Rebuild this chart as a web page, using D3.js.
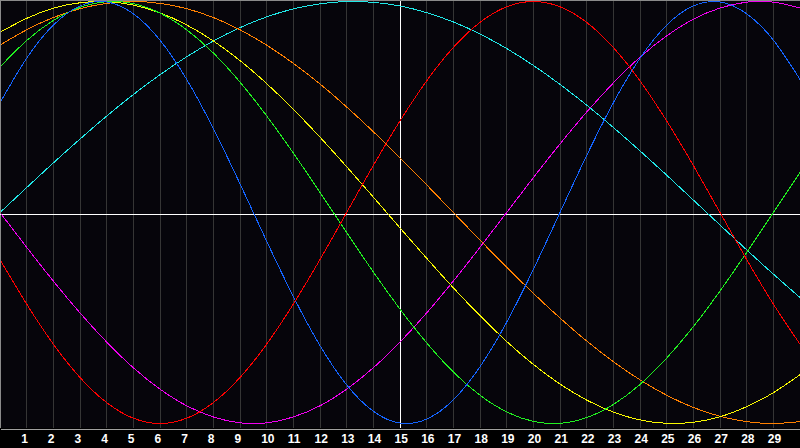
<!DOCTYPE html>
<html lang="en">
<head>
<meta charset="utf-8" />
<title>Biorhythm</title>
<style>
  html, body { margin: 0; padding: 0; background: #000; }
  svg { display: block; }
  .day-axis text { fill: #fff; font-family: "Liberation Sans", Arial, sans-serif; font-weight: bold; font-size: 12px; }
</style>
</head>
<body>
<script src="https://d3js.org/d3.v7.min.js"></script>
<script type="text/javascript">

// days shown on the chart (0 = left edge, 30 = right edge)
const days = [0, 1, 2, 3, 4, 5, 6, 7, 8, 9, 10, 11, 12, 13, 14, 15, 16, 17, 18, 19, 20, 21, 22, 23, 24, 25, 26, 27, 28, 29, 30];
const tickDays = [1, 2, 3, 4, 5, 6, 7, 8, 9, 10, 11, 12, 13, 14, 15, 16, 17, 18, 19, 20, 21, 22, 23, 24, 25, 26, 27, 28, 29];

// cycle values per day, -1 .. 1
const physical = [0.520, 0.731, 0.888, 0.979, 0.998, 0.942, 0.817, 0.631, 0.398, 0.136, -0.136, -0.398, -0.631, -0.817, -0.942, -0.998, -0.979, -0.888, -0.731, -0.520, -0.270, 0.000, 0.270, 0.520, 0.731, 0.888, 0.979, 0.998, 0.942, 0.817, 0.631];
const emotional = [-0.223, -0.434, -0.624, -0.782, -0.901, -0.975, -1.000, -0.975, -0.901, -0.782, -0.624, -0.434, -0.223, 0.000, 0.223, 0.434, 0.624, 0.782, 0.901, 0.975, 1.000, 0.975, 0.901, 0.782, 0.624, 0.434, 0.223, 0.000, -0.223, -0.434, -0.624];
const intellectual = [0.690, 0.815, 0.910, 0.972, 0.999, 0.990, 0.945, 0.866, 0.756, 0.618, 0.458, 0.282, 0.095, -0.095, -0.282, -0.458, -0.618, -0.756, -0.866, -0.945, -0.990, -0.999, -0.972, -0.910, -0.815, -0.690, -0.541, -0.372, -0.189, 0.000, 0.189];
const intuitive = [0.000, -0.165, -0.325, -0.476, -0.614, -0.736, -0.837, -0.916, -0.969, -0.997, -0.997, -0.969, -0.916, -0.837, -0.736, -0.614, -0.476, -0.325, -0.165, 0.000, 0.165, 0.325, 0.476, 0.614, 0.736, 0.837, 0.916, 0.969, 0.997, 0.997, 0.969];
const spiritual = [0.000, 0.118, 0.235, 0.348, 0.457, 0.559, 0.653, 0.738, 0.813, 0.876, 0.927, 0.965, 0.989, 1.000, 0.996, 0.979, 0.947, 0.903, 0.846, 0.777, 0.697, 0.607, 0.509, 0.403, 0.292, 0.177, 0.059, -0.059, -0.177, -0.292, -0.403];
const aesthetic = [0.854, 0.920, 0.968, 0.994, 0.999, 0.983, 0.946, 0.889, 0.813, 0.720, 0.611, 0.489, 0.357, 0.217, 0.073, -0.073, -0.217, -0.357, -0.489, -0.611, -0.720, -0.813, -0.889, -0.946, -0.983, -0.999, -0.994, -0.968, -0.920, -0.854, -0.769];
const awareness = [0.793, 0.866, 0.924, 0.966, 0.991, 1.000, 0.991, 0.966, 0.924, 0.866, 0.793, 0.707, 0.609, 0.500, 0.383, 0.259, 0.131, 0.000, -0.131, -0.259, -0.383, -0.500, -0.609, -0.707, -0.793, -0.866, -0.924, -0.966, -0.991, -1.000, -0.991];

const seriesNames = ["intuitive", "spiritual", "awareness", "aesthetic", "intellectual", "physical", "emotional"];
const seriesValues = [intuitive, spiritual, awareness, aesthetic, intellectual, physical, emotional];
const seriesColors = ["#f000f0", "#20e8e8", "#ff8000", "#f8f800", "#20f020", "#1464ff", "#ff0000"];

const width = 800;
const height = 448;
const plotBottom = 428;

const svg = d3.select("body")
  .append("svg")
  .attr("width", width)
  .attr("height", height);

svg.append("rect")
  .attr("x", 0).attr("y", 0)
  .attr("width", width).attr("height", plotBottom)
  .attr("fill", "#06050b");

const xScale = d3.scaleLinear().domain([0, 30]).range([0, width]);
const yScale = d3.scaleLinear().domain([-1, 1]).range([423.5, 1.5]);

// day grid
svg.append("g")
  .selectAll("line")
  .data(tickDays)
  .enter()
  .append("line")
  .attr("x1", d => Math.floor(xScale(d)) + 0.5)
  .attr("x2", d => Math.floor(xScale(d)) + 0.5)
  .attr("y1", 0)
  .attr("y2", plotBottom)
  .attr("stroke", d => d === 15 ? "#ffffff" : "#353535")
  .attr("shape-rendering", "crispEdges");

// borders and centre line
svg.append("line")
  .attr("x1", 0.5).attr("x2", 0.5).attr("y1", 0).attr("y2", plotBottom)
  .attr("stroke", "#8a8a8a").attr("shape-rendering", "crispEdges");
svg.append("line")
  .attr("x1", 0).attr("x2", width).attr("y1", 0.5).attr("y2", 0.5)
  .attr("stroke", "#8a8a8a").attr("shape-rendering", "crispEdges");
svg.append("line")
  .attr("x1", 0).attr("x2", width)
  .attr("y1", plotBottom / 2 + 0.5).attr("y2", plotBottom / 2 + 0.5)
  .attr("stroke", "#ffffff").attr("shape-rendering", "crispEdges");

// curves
svg.append("clipPath").attr("id", "plot")
  .append("rect").attr("x", 1).attr("y", 1).attr("width", width - 1).attr("height", plotBottom - 1);

const line = d3.line()
  .x((d, i) => xScale(days[i]))
  .y(d => yScale(d))
  .curve(d3.curveNatural);

svg.append("g")
  .attr("clip-path", "url(#plot)")
  .selectAll("path")
  .data(seriesValues)
  .enter()
  .append("path")
  .attr("class", (d, i) => seriesNames[i])
  .attr("d", d => line(d))
  .attr("fill", "none")
  .attr("stroke", (d, i) => seriesColors[i])
  .attr("stroke-width", 1)
  .attr("shape-rendering", "crispEdges");

// bottom axis with day numbers
const bottomAxis = d3.axisBottom(xScale)
  .tickValues(tickDays)
  .tickFormat(d => d)
  .tickSize(0)
  .tickPadding(0);

const ax = svg.append("g")
  .attr("class", "day-axis")
  .attr("transform", "translate(0," + (plotBottom + 0.5) + ")")
  .call(bottomAxis);

ax.select(".domain")
  .attr("stroke", "#a0a0a0")
  .attr("shape-rendering", "crispEdges");

ax.selectAll("text")
  .attr("y", 14.5)
  .attr("dy", 0)
  .attr("dx", -6)
  .style("text-anchor", "start");

</script>
</body>
</html>
